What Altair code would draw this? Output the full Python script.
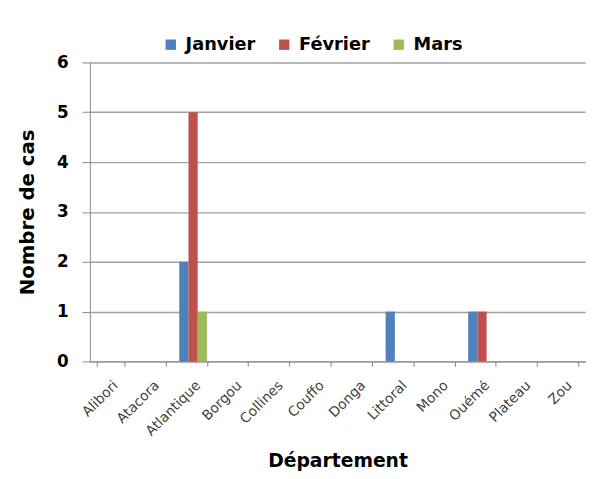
import altair as alt
import pandas as pd

departements = ["Alibori", "Atacora", "Atlantique", "Borgou", "Collines", "Couffo",
                "Donga", "Littoral", "Mono", "Ouémé", "Plateau", "Zou"]
mois = ["Janvier", "Février", "Mars"]
janvier = [0, 0, 2, 0, 0, 0, 0, 1, 0, 1, 0, 0]
fevrier = [0, 0, 5, 0, 0, 0, 0, 0, 0, 1, 0, 0]
mars = [0, 0, 1, 0, 0, 0, 0, 0, 0, 0, 0, 0]
colors = ["#4F81BD", "#C0504D", "#9BBB59"]

rows = []
for m, vals in zip(mois, [janvier, fevrier, mars]):
    for d, v in zip(departements, vals):
        rows.append({"Département": d, "Mois": m, "Cas": v})
df = pd.DataFrame(rows)

bold_font = "DejaVu Sans"
label_font = "DejaVu Sans"

chart = alt.Chart(df).mark_bar().encode(
    x=alt.X("Département:N", sort=departements,
            scale=alt.Scale(paddingInner=0.33, paddingOuter=0.165),
            axis=alt.Axis(title="Département", labelAngle=-45, labelFontSize=14,
                          labelFont=label_font, labelColor="#404040", tickBand="extent",
                          domainColor="#888", tickColor="#888", tickSize=5,
                          labelPadding=12,
                          titleFont=bold_font, titleFontSize=19, titleFontWeight="bold",
                          titleColor="#000", titlePadding=14, grid=False)),
    xOffset=alt.XOffset("Mois:N", sort=mois, scale=alt.Scale(paddingInner=0, paddingOuter=0)),
    y=alt.Y("Cas:Q", scale=alt.Scale(domain=[0, 6]),
            axis=alt.Axis(title="Nombre de cas", values=[0, 1, 2, 3, 4, 5, 6],
                          labelFontSize=17, labelFont=bold_font, labelFontWeight="bold",
                          labelColor="#000", labelPadding=14,
                          domainColor="#888", tickColor="#888", tickSize=8,
                          gridColor="#A0A0A0", gridWidth=1.4,
                          titleFont=bold_font, titleFontSize=20, titleFontWeight="bold",
                          titleColor="#000", titlePadding=19)),
    color=alt.Color("Mois:N", sort=mois,
                    scale=alt.Scale(domain=mois, range=colors),
                    legend=alt.Legend(title=None, orient="none", direction="horizontal",
                                      legendX=73, legendY=-27, symbolType="square",
                                      symbolSize=110, symbolStrokeWidth=0,
                                      labelFont=bold_font, labelFontSize=18,
                                      labelFontWeight="bold", labelColor="#000",
                                      columnPadding=20, labelOffset=6)),
).properties(
    width=502, height=303,
    background="white",
    autosize=alt.AutoSizeParams(type="none"),
    padding={"left": 83, "top": 52, "right": 14, "bottom": 116},
).configure_view(stroke=None)

chart.save("out.html", embed_options={"renderer": "svg", "actions": False})
